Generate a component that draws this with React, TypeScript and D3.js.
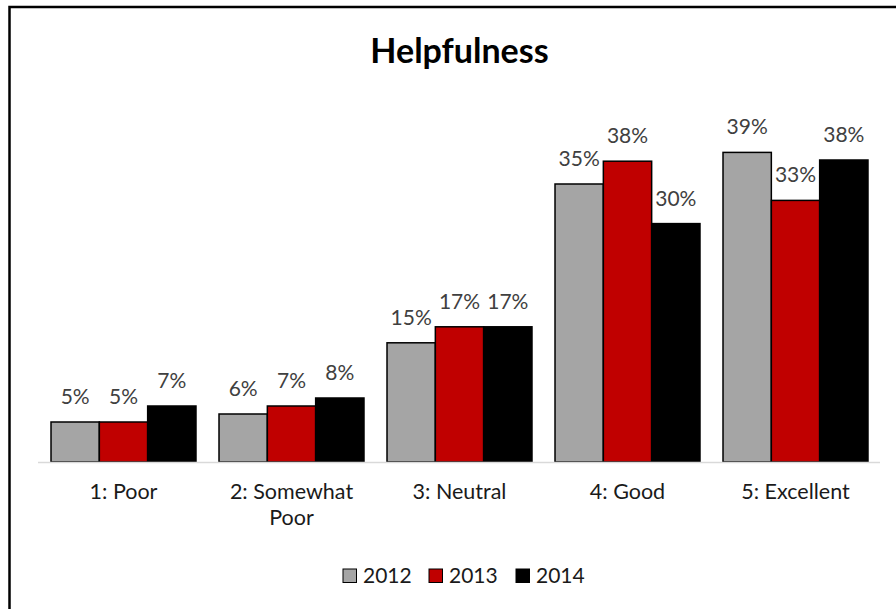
import React from "react";
import * as d3 from "d3";

const categories = ["1: Poor", "2: Somewhat Poor", "3: Neutral", "4: Good", "5: Excellent"];
const categoryLines = [["1: Poor"], ["2: Somewhat", "Poor"], ["3: Neutral"], ["4: Good"], ["5: Excellent"]];
const seriesNames = ["2012", "2013", "2014"];
const values2012 = [0.05, 0.06, 0.149, 0.3475, 0.387];
const values2013 = [0.05, 0.07, 0.169, 0.376, 0.327];
const values2014 = [0.07, 0.08, 0.169, 0.298, 0.3775];
const seriesColors = ["#A5A5A5", "#C00000", "#000000"];
const title = "Helpfulness";

const W = 896;
const H = 609;
const FONT = "Lato, 'Open Sans', 'Liberation Sans', sans-serif";

export default function App() {
  const seriesValues = [values2012, values2013, values2014];
  const x0 = d3.scaleBand<string>().domain(categories).range([39.5, 879.5]).paddingInner(0.137).paddingOuter(0.0685);
  const x1 = d3.scaleBand<string>().domain(seriesNames).range([0, x0.bandwidth()]).padding(0);
  const y = d3.scaleLinear().domain([0, 0.45]).range([462, 102]);
  const fmt = d3.format(".0%");

  return (
    <svg width={W} height={H} style={{ position: "absolute", left: 0, top: 0, background: "#fff" }} fontFamily={FONT}>
      <rect x={0} y={0} width={W} height={H} fill="#fff" />
      <path d={`M9.5,${H + 5} V7 H${W + 5}`} fill="none" stroke="#000" strokeWidth={2.5} />
      <text x={459.5} y={63} textAnchor="middle" fontSize={34} fontWeight="bold" fill="#000">{title}</text>
      {categories.map((c, ci) => (
        <g key={c} transform={`translate(${x0(c)},0)`}>
          {seriesNames.map((s, si) => {
            const v = seriesValues[si][ci];
            const bx = x1(s)!;
            return (
              <g key={s}>
                <rect x={bx} y={y(v)} width={x1.bandwidth()} height={y(0) - y(v)} fill={seriesColors[si]} stroke="#000" strokeWidth={1.5} />
                <text x={bx + x1.bandwidth() / 2} y={y(v) - 18} textAnchor="middle" fontSize={21} fill="#404040">{fmt(v)}</text>
              </g>
            );
          })}
        </g>
      ))}
      <line x1={38} x2={880} y1={462.5} y2={462.5} stroke="#D9D9D9" strokeWidth={1.5} />
      {categories.map((c, ci) => (
        <text key={c} x={x0(c)! + x0.bandwidth() / 2} y={499} textAnchor="middle" fontSize={21.5} fill="#1a1a1a">
          {categoryLines[ci].map((line, li) => (
            <tspan key={li} x={x0(c)! + x0.bandwidth() / 2} dy={li === 0 ? 0 : 26}>{line}</tspan>
          ))}
        </text>
      ))}
      {seriesNames.map((s, si) => {
        const lx = [343, 429, 516][si];
        return (
          <g key={s}>
            <rect x={lx} y={569} width={13.5} height={13.5} fill={seriesColors[si]} stroke="#000" strokeWidth={1} />
            <text x={lx + 20} y={583} fontSize={21} fill="#1a1a1a">{s}</text>
          </g>
        );
      })}
    </svg>
  );
}
